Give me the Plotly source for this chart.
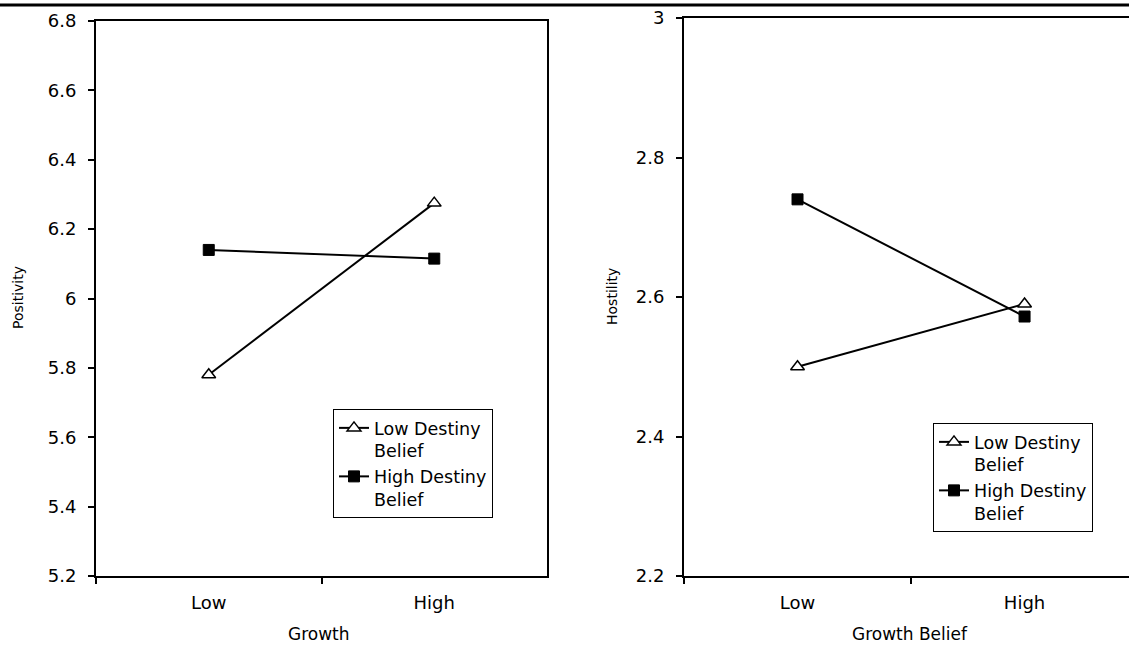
import plotly.graph_objects as go

# ---- data ----
growth_levels = ["Low", "High"]
pos_low_destiny = [5.78, 6.275]
pos_high_destiny = [6.14, 6.115]
host_low_destiny = [2.50, 2.59]
host_high_destiny = [2.74, 2.572]
series_names = ["Low Destiny<br>Belief", "High Destiny<br>Belief"]
pos_ticks = [5.2, 5.4, 5.6, 5.8, 6.0, 6.2, 6.4, 6.6, 6.8]
pos_ticktext = ["5.2", "5.4", "5.6", "5.8", "6", "6.2", "6.4", "6.6", "6.8"]
host_ticks = [2.2, 2.4, 2.6, 2.8, 3.0]
host_ticktext = ["2.2", "2.4", "2.6", "2.8", "3"]

FONT = "DejaVu Sans, Arial, sans-serif"
W, H = 1129, 645

fig = go.Figure()

tri = dict(symbol="triangle-up", size=12, color="white", line=dict(color="black", width=1.5))
sq = dict(symbol="square", size=11, color="black", line=dict(color="black", width=1))
ln = dict(color="black", width=2)

fig.add_trace(go.Scatter(x=growth_levels, y=pos_low_destiny, mode="lines+markers",
                         name=series_names[0], marker=tri, line=ln,
                         xaxis="x", yaxis="y", legend="legend"))
fig.add_trace(go.Scatter(x=growth_levels, y=pos_high_destiny, mode="lines+markers",
                         name=series_names[1], marker=sq, line=ln,
                         xaxis="x", yaxis="y", legend="legend"))
fig.add_trace(go.Scatter(x=growth_levels, y=host_low_destiny, mode="lines+markers",
                         name=series_names[0], marker=tri, line=ln,
                         xaxis="x2", yaxis="y2", legend="legend2"))
fig.add_trace(go.Scatter(x=growth_levels, y=host_high_destiny, mode="lines+markers",
                         name=series_names[1], marker=sq, line=ln,
                         xaxis="x2", yaxis="y2", legend="legend2"))

tickfont = dict(family=FONT, size=18, color="black")

common_x = dict(type="category", tickson="boundaries", ticks="outside", ticklen=6,
                tickwidth=1.5, tickcolor="black", showline=True, linecolor="black",
                linewidth=2, showgrid=False, zeroline=False, tickfont=tickfont,
                automargin=False, ticklabelstandoff=9)
common_y = dict(ticks="outside", ticklen=6, tickwidth=1.5, tickcolor="black",
                showline=True, linecolor="black", linewidth=2, showgrid=False,
                zeroline=False, tickfont=tickfont, automargin=False,
                ticklabelstandoff=8)

legend_common = dict(xanchor="left", yanchor="top", bordercolor="black", borderwidth=1,
                     bgcolor="white", font=dict(family=FONT, size=17.5, color="black"),
                     valign="top", itemwidth=30, tracegroupgap=0)

fig.update_layout(
    width=W, height=H,
    margin=dict(l=0, r=0, t=0, b=0),
    paper_bgcolor="white", plot_bgcolor="white",
    font=dict(family=FONT, color="black"),
    xaxis=dict(domain=[96 / W, 547 / W], range=[-0.5, 1.5], mirror=True, anchor="y", **common_x),
    yaxis=dict(domain=[1 - 576 / H, 1 - 21 / H], range=[5.2, 6.8], tickvals=pos_ticks,
               ticktext=pos_ticktext, mirror=True, anchor="x", **common_y),
    xaxis2=dict(domain=[684 / W, 1.0], range=[-0.5, 1.46], mirror=True, anchor="y2", **common_x),
    yaxis2=dict(domain=[1 - 576 / H, 1 - 18 / H], range=[2.2, 3.0], tickvals=host_ticks,
                ticktext=host_ticktext, mirror=False, anchor="x2", **common_y),
    legend=dict(x=333 / W, y=1 - 409 / H, **legend_common),
    legend2=dict(x=933 / W, y=1 - 423 / H, **legend_common),
    showlegend=True,
)

title_font = dict(family=FONT, size=14, color="black")
xt_font = dict(family=FONT, size=17, color="black")
fig.add_annotation(text="Positivity", x=18 / W, y=1 - 298 / H, xref="paper", yref="paper",
                   textangle=-90, showarrow=False, font=title_font, xanchor="center", yanchor="middle")
fig.add_annotation(text="Hostility", x=612 / W, y=1 - 297 / H, xref="paper", yref="paper",
                   textangle=-90, showarrow=False, font=title_font, xanchor="center", yanchor="middle")
fig.add_annotation(text="Growth", x=319 / W, y=1 - 634 / H, xref="paper", yref="paper",
                   showarrow=False, font=xt_font, xanchor="center", yanchor="middle")
fig.add_annotation(text="Growth Belief", x=910 / W, y=1 - 634 / H, xref="paper", yref="paper",
                   showarrow=False, font=xt_font, xanchor="center", yanchor="middle")

# page rule at the top of the scanned figure
fig.add_shape(type="line", xref="paper", yref="paper", x0=0, x1=1,
              y0=1 - 5 / H, y1=1 - 5 / H, line=dict(color="black", width=3))

fig.write_html(
    "out.html",
    config={"displayModeBar": False},
    post_script="document.body.style.margin='0';document.body.style.overflow='hidden';",
)
